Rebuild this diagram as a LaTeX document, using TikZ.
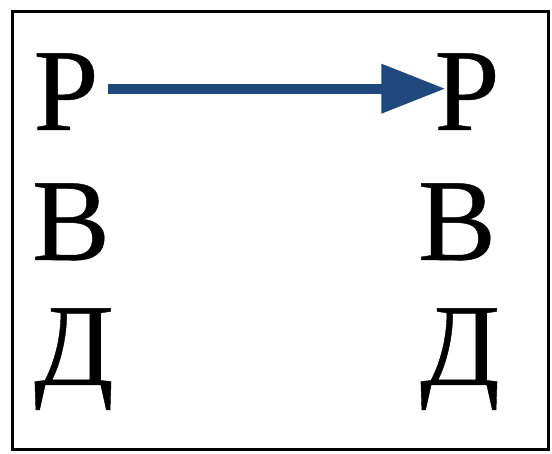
\documentclass[tikz,border=0pt]{standalone}
\usepackage{fontspec}
\setmainfont{Liberation Serif}
\newfontfamily\letterfont[FakeBold=0.35]{Liberation Serif}
\usetikzlibrary{arrows.meta}
\definecolor{arrowblue}{RGB}{31,73,125}
\begin{document}
\begin{tikzpicture}[x=1pt,y=1pt,
  letter/.style={inner sep=0pt,outer sep=0pt,anchor=base,font=\letterfont\fontsize{117}{117}\selectfont},
  frame/.style={draw=black,line width=3pt},
  link/.style={draw=arrowblue,line width=10pt,-{Triangle[length=64pt,width=47pt]}}]
  \useasboundingbox (0,0) rectangle (552,454);
  \fill[white] (0,0) rectangle (552,454);
  \draw[frame] (12,4) rectangle (548,442);
  % left column
  \node[letter] (p1) at (66,324) {Р};
  \node[letter] (b1) at (71,194) {В};
  \node[letter] (d1) at (74,69) {Д};
  % right column
  \node[letter] (p2) at (467,324) {Р};
  \node[letter] (b2) at (457,194) {В};
  \node[letter] (d2) at (460,69) {Д};
  \coordinate (s) at ([yshift=3pt]p1.east);
  \coordinate (t) at ([yshift=3pt]p2.west);
  \draw[link] ([xshift=9pt]s) -- ([xshift=11pt]t);
\end{tikzpicture}
\end{document}
